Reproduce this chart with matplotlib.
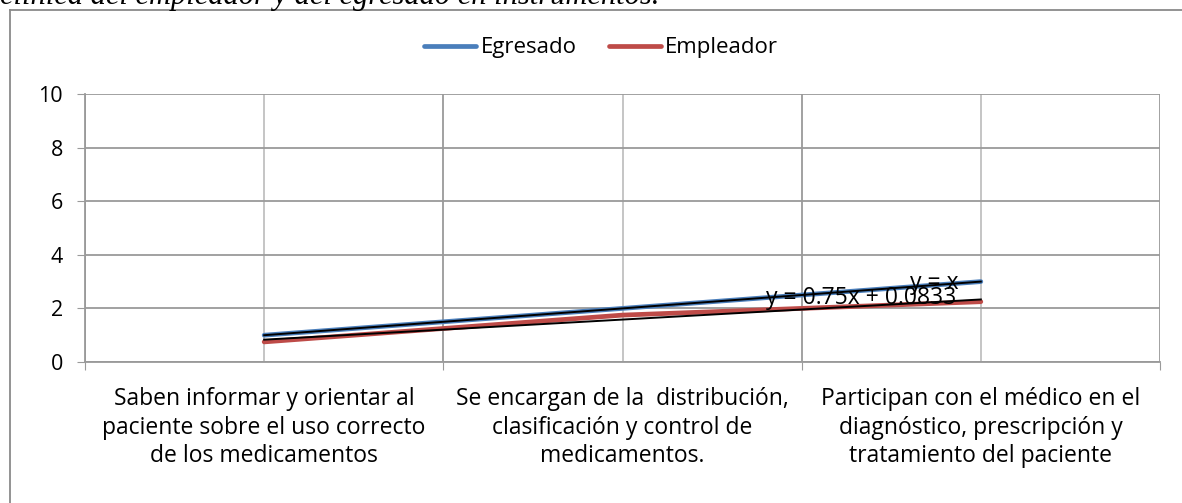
import numpy as np
import matplotlib
matplotlib.use("Agg")
import matplotlib.pyplot as plt
from matplotlib.ticker import FixedLocator

plt.rcParams["font.family"] = ["Open Sans", "DejaVu Sans"]

categorias = ["Saben informar y orientar al\npaciente sobre el uso correcto\nde los medicamentos",
              "Se encargan de la  distribución,\nclasificación y control de\nmedicamentos.",
              "Participan con el médico en el\ndiagnóstico, prescripción y\ntratamiento del paciente"]
egresado = [1, 2, 3]
empleador = [0.75, 1.75, 2.25]
C_EGR = "#4A7EBB"; C_EMP = "#BE4B48"; C_GRID = "#9A9A9A"; C_GRID2 = "#C0C0C0"

fig = plt.figure(figsize=(11.82, 5.03), dpi=100)
ax = fig.add_axes([85/1182, 1-362/503, (1160-85)/1182, (362-94)/503])

x = np.arange(1, len(categorias)+1)
ax.plot(x, egresado, color=C_EGR, lw=3.4, solid_capstyle="round", label="Egresado", zorder=3)
ax.plot(x, empleador, color=C_EMP, lw=3.4, solid_capstyle="round", label="Empleador", zorder=3)

# lineas de tendencia (lineales)
for serie, txt, pos in [(egresado, "y = x", (2.87, 2.95)), (empleador, "y = 0.75x + 0.0833", (2.666, 2.39))]:
    m, b = np.polyfit(x, serie, 1)
    ax.plot(x, m*x + b, color="black", lw=1.4, zorder=4)
    ax.text(pos[0], pos[1], txt, ha="center", va="center", fontsize=16.5, zorder=5)

ax.set_xlim(0.5, 3.5)
ax.set_ylim(0, 10)
ax.set_yticks(np.arange(0, 11, 2))
ax.xaxis.set_major_locator(FixedLocator([0.5, 1.5, 2.5, 3.5]))
ax.set_xticklabels([])
ax.set_xticks(x, minor=True)
ax.set_xticklabels(categorias, minor=True, fontsize=16.5, linespacing=1.25)
ax.tick_params(axis="x", which="minor", length=0, pad=18)
ax.tick_params(axis="x", which="major", length=6, color=C_GRID, direction="out")
ax.tick_params(axis="y", length=6, color=C_GRID, direction="out", labelsize=15.5, pad=10)
ax.grid(axis="y", color=C_GRID, lw=1.3)
ax.grid(axis="x", which="major", color=C_GRID, lw=1.3)
ax.grid(axis="x", which="minor", color=C_GRID2, lw=1.3)
ax.set_axisbelow(True)
for s in ["top", "right"]:
    ax.spines[s].set_visible(False)
for s in ["left", "bottom"]:
    ax.spines[s].set_color(C_GRID); ax.spines[s].set_linewidth(1.3)

fig.legend(loc="center", bbox_to_anchor=(601/1182, 1-48/503), ncol=2, frameon=False,
           fontsize=16, handlelength=2.35, columnspacing=1.45, handletextpad=0.2)

# borde del grafico y titulo recortado
fig.add_artist(plt.Line2D([10/1182, 10/1182], [0, 1-10/503], color="#8A8A8A", lw=1.3))
fig.add_artist(plt.Line2D([10/1182, 1], [1-10/503, 1-10/503], color="#8A8A8A", lw=1.3))
fig.text(0, 1-4/503, "clínica del empleador y del egresado en instrumentos.", family="Liberation Serif",
         style="italic", fontsize=22, va="baseline", ha="left")

fig.savefig("out.png", dpi=100)
